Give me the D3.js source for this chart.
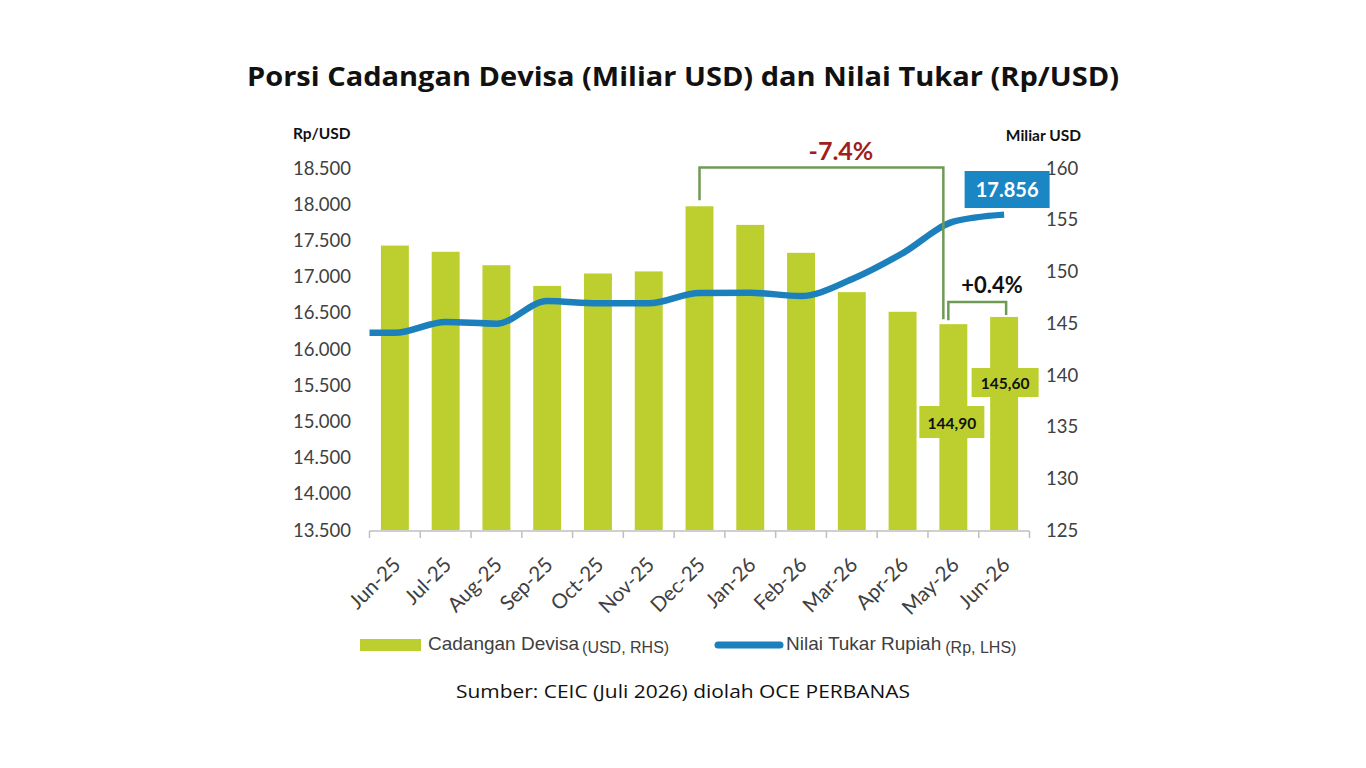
<!DOCTYPE html>
<html>
<head>
<meta charset="utf-8">
<script src="https://cdn.jsdelivr.net/npm/d3@7"></script>
<style>
  html, body { margin: 0; padding: 0; background: #ffffff; }
  svg { display: block; }
</style>
</head>
<body>
<svg id="chart" width="1366" height="768"></svg>
<script>
// ---- data ----
const months = ["Jun-25","Jul-25","Aug-25","Sep-25","Oct-25","Nov-25","Dec-25","Jan-26","Feb-26","Mar-26","Apr-26","May-26","Jun-26"];
const reserves = [152.5, 151.9, 150.6, 148.6, 149.8, 150.0, 156.3, 154.5, 151.8, 148.0, 146.1, 144.9, 145.6]; // Miliar USD (RHS)
const rupiah = [16225, 16373, 16350, 16663, 16631, 16631, 16775, 16777, 16732, 16963, 17322, 17758, 17856]; // Rp/USD (LHS)
const leftTicks = [13500, 14000, 14500, 15000, 15500, 16000, 16500, 17000, 17500, 18000, 18500];
const rightTicks = [125, 130, 135, 140, 145, 150, 155, 160];
const changeLabels = ["-7.4%", "+0.4%"];
const titleText = "Porsi Cadangan Devisa (Miliar USD) dan Nilai Tukar (Rp/USD)";
const sourceText = "Sumber: CEIC (Juli 2026) diolah OCE PERBANAS";
const leftAxisTitle = "Rp/USD";
const rightAxisTitle = "Miliar USD";
const legendBar = ["Cadangan Devisa", "(USD, RHS)"];
const legendLine = ["Nilai Tukar Rupiah", "(Rp, LHS)"];

// ---- setup ----
const svg = d3.select("#chart");
const idLocale = d3.formatLocale({decimal: ",", thousands: ".", grouping: [3], currency: ["", ""]});
const fmtThousands = idLocale.format(",");
const fmt2 = idLocale.format(",.2f");

const BAR = "#bccf2e";
const LINE = "#1b80bb";
const BRACKET = "#6f9a55";
const TICKTXT = "#404040";

const x = d3.scaleBand().domain(months).range([369.5, 1029.5]).paddingInner(0.45).paddingOuter(0.225);
const yL = d3.scaleLinear().domain([13500, 18500]).range([530, 168]);
const yR = d3.scaleLinear().domain([125, 160]).range([530, 168]);
const cx = m => x(m) + x.bandwidth() / 2;

// title
svg.append("text").attr("x", 683).attr("y", 86).attr("text-anchor", "middle")
  .attr("font-family", "'Open Sans', sans-serif").attr("font-weight", 700).attr("font-size", 27)
  .attr("fill", "#111").attr("textLength", 872).attr("lengthAdjust", "spacingAndGlyphs").text(titleText);

// bars
svg.append("g").selectAll("rect").data(months).join("rect")
  .attr("x", d => x(d)).attr("width", x.bandwidth())
  .attr("y", (d, i) => yR(reserves[i])).attr("height", (d, i) => yR.range()[0] - yR(reserves[i]))
  .attr("fill", BAR);

// x axis
const xa = svg.append("g");
xa.append("line").attr("x1", x.range()[0]).attr("x2", x.range()[1]).attr("y1", 531).attr("y2", 531)
  .attr("stroke", "#bfbfbf").attr("stroke-width", 1.5);
const bounds = months.map(m => x(m) - x.step() * x.paddingInner() / 2).concat([x.range()[1]]);
bounds[0] = x.range()[0];
xa.selectAll("line.tk").data(bounds).join("line").attr("class", "tk")
  .attr("x1", d => d).attr("x2", d => d).attr("y1", 531).attr("y2", 538)
  .attr("stroke", "#bfbfbf").attr("stroke-width", 1.5);
xa.selectAll("text").data(months).join("text")
  .attr("transform", d => `translate(${cx(d) + 7},${566}) rotate(-45)`)
  .attr("text-anchor", "end")
  .attr("font-family", "Lato, sans-serif").attr("font-size", 20.5).attr("fill", TICKTXT)
  .text(d => d);

// left axis labels
svg.append("g").selectAll("text").data(leftTicks).join("text")
  .attr("x", 351).attr("y", d => yL(d)).attr("dy", "0.36em").attr("text-anchor", "end")
  .attr("font-family", "Lato, sans-serif").attr("font-size", 18.5).attr("fill", TICKTXT)
  .text(d => fmtThousands(d));
// right axis labels
svg.append("g").selectAll("text").data(rightTicks).join("text")
  .attr("x", 1046).attr("y", d => yR(d)).attr("dy", "0.36em").attr("text-anchor", "start")
  .attr("font-family", "Lato, sans-serif").attr("font-size", 18.5).attr("fill", TICKTXT)
  .text(d => d);

// axis titles
svg.append("text").attr("x", 293).attr("y", 139).attr("font-family", "Lato, sans-serif")
  .attr("font-weight", 700).attr("font-size", 15.5).attr("fill", "#111").text(leftAxisTitle);
svg.append("text").attr("x", 1081).attr("y", 141).attr("text-anchor", "end").attr("font-family", "Lato, sans-serif")
  .attr("font-weight", 700).attr("font-size", 15.5).attr("fill", "#111").text(rightAxisTitle);

// line
const linePts = [[x.range()[0], yL(rupiah[0])]].concat(months.map((m, i) => [cx(m), yL(rupiah[i])]));
svg.append("path").datum(linePts)
  .attr("d", d3.line().curve(d3.curveMonotoneX))
  .attr("fill", "none").attr("stroke", LINE).attr("stroke-width", 6.5).attr("stroke-linejoin", "round");

// brackets
const iDec = months.indexOf("Dec-25"), iMay = months.indexOf("May-26"), iJun = months.length - 1;
const bigTop = yR(160) - 0.5;
svg.append("path")
  .attr("d", `M${cx(months[iDec])},${yR(reserves[iDec]) - 6} V${bigTop} H${cx(months[iMay]) - 10} V${yR(reserves[iMay]) - 5}`)
  .attr("fill", "none").attr("stroke", BRACKET).attr("stroke-width", 2.5);
const smallTop = yR(reserves[iJun]) - 15;
svg.append("path")
  .attr("d", `M${cx(months[iMay]) - 5},${yR(reserves[iMay]) - 4} V${smallTop} H${cx(months[iJun]) + 2} V${yR(reserves[iJun]) - 2}`)
  .attr("fill", "none").attr("stroke", BRACKET).attr("stroke-width", 2.5);

svg.append("text").attr("x", 841).attr("y", 160).attr("text-anchor", "middle")
  .attr("font-family", "Lato, sans-serif").attr("font-weight", 700).attr("font-size", 25)
  .attr("fill", "#a01e1e").text(changeLabels[0]);
svg.append("text").attr("x", 992).attr("y", 293).attr("text-anchor", "middle")
  .attr("font-family", "Lato, sans-serif").attr("font-weight", 700).attr("font-size", 22)
  .attr("fill", "#111").text(changeLabels[1]);

// value boxes
const jx = cx(months[iJun]), mx = cx(months[iMay]);
svg.append("rect").attr("x", jx - 39.5).attr("y", 171).attr("width", 85).attr("height", 37).attr("fill", "#1a86c4");
svg.append("text").attr("x", jx + 3).attr("y", 197).attr("text-anchor", "middle")
  .attr("font-family", "Lato, sans-serif").attr("font-weight", 700).attr("font-size", 20)
  .attr("fill", "#fff").text(fmtThousands(rupiah[iJun]));

svg.append("rect").attr("x", jx - 32.5).attr("y", 368).attr("width", 67).attr("height", 29).attr("fill", BAR);
svg.append("text").attr("x", jx + 1).attr("y", 389).attr("text-anchor", "middle")
  .attr("font-family", "Lato, sans-serif").attr("font-weight", 700).attr("font-size", 15.5)
  .attr("fill", "#111").text(fmt2(reserves[iJun]));

svg.append("rect").attr("x", mx - 34).attr("y", 406).attr("width", 65).attr("height", 32).attr("fill", BAR);
svg.append("text").attr("x", mx - 1.5).attr("y", 428.5).attr("text-anchor", "middle")
  .attr("font-family", "Lato, sans-serif").attr("font-weight", 700).attr("font-size", 15.5)
  .attr("fill", "#111").text(fmt2(reserves[iMay]));

// legend
const lg = svg.append("g");
lg.append("rect").attr("x", 360).attr("y", 639).attr("width", 61).attr("height", 12).attr("fill", BAR);
const t1 = lg.append("text").attr("x", 428).attr("y", 650)
  .attr("font-family", "'Liberation Sans', Arial, sans-serif").attr("fill", TICKTXT);
t1.append("tspan").attr("font-size", 19).text(legendBar[0]);
t1.append("tspan").attr("font-size", 16).attr("dx", 3).attr("dy", 3).text(legendBar[1]);
lg.append("line").attr("x1", 718).attr("x2", 780).attr("y1", 645).attr("y2", 645)
  .attr("stroke", LINE).attr("stroke-width", 7).attr("stroke-linecap", "round");
const t2 = lg.append("text").attr("x", 786).attr("y", 650)
  .attr("font-family", "'Liberation Sans', Arial, sans-serif").attr("fill", TICKTXT);
t2.append("tspan").attr("font-size", 19).text(legendLine[0]);
t2.append("tspan").attr("font-size", 16).attr("dx", 4).attr("dy", 3).text(legendLine[1]);

// source
svg.append("text").attr("x", 683).attr("y", 698).attr("text-anchor", "middle")
  .attr("font-family", "'Open Sans', sans-serif").attr("font-size", 18.5).attr("fill", "#111")
  .attr("textLength", 454).attr("lengthAdjust", "spacingAndGlyphs").text(sourceText);
</script>
</body>
</html>
